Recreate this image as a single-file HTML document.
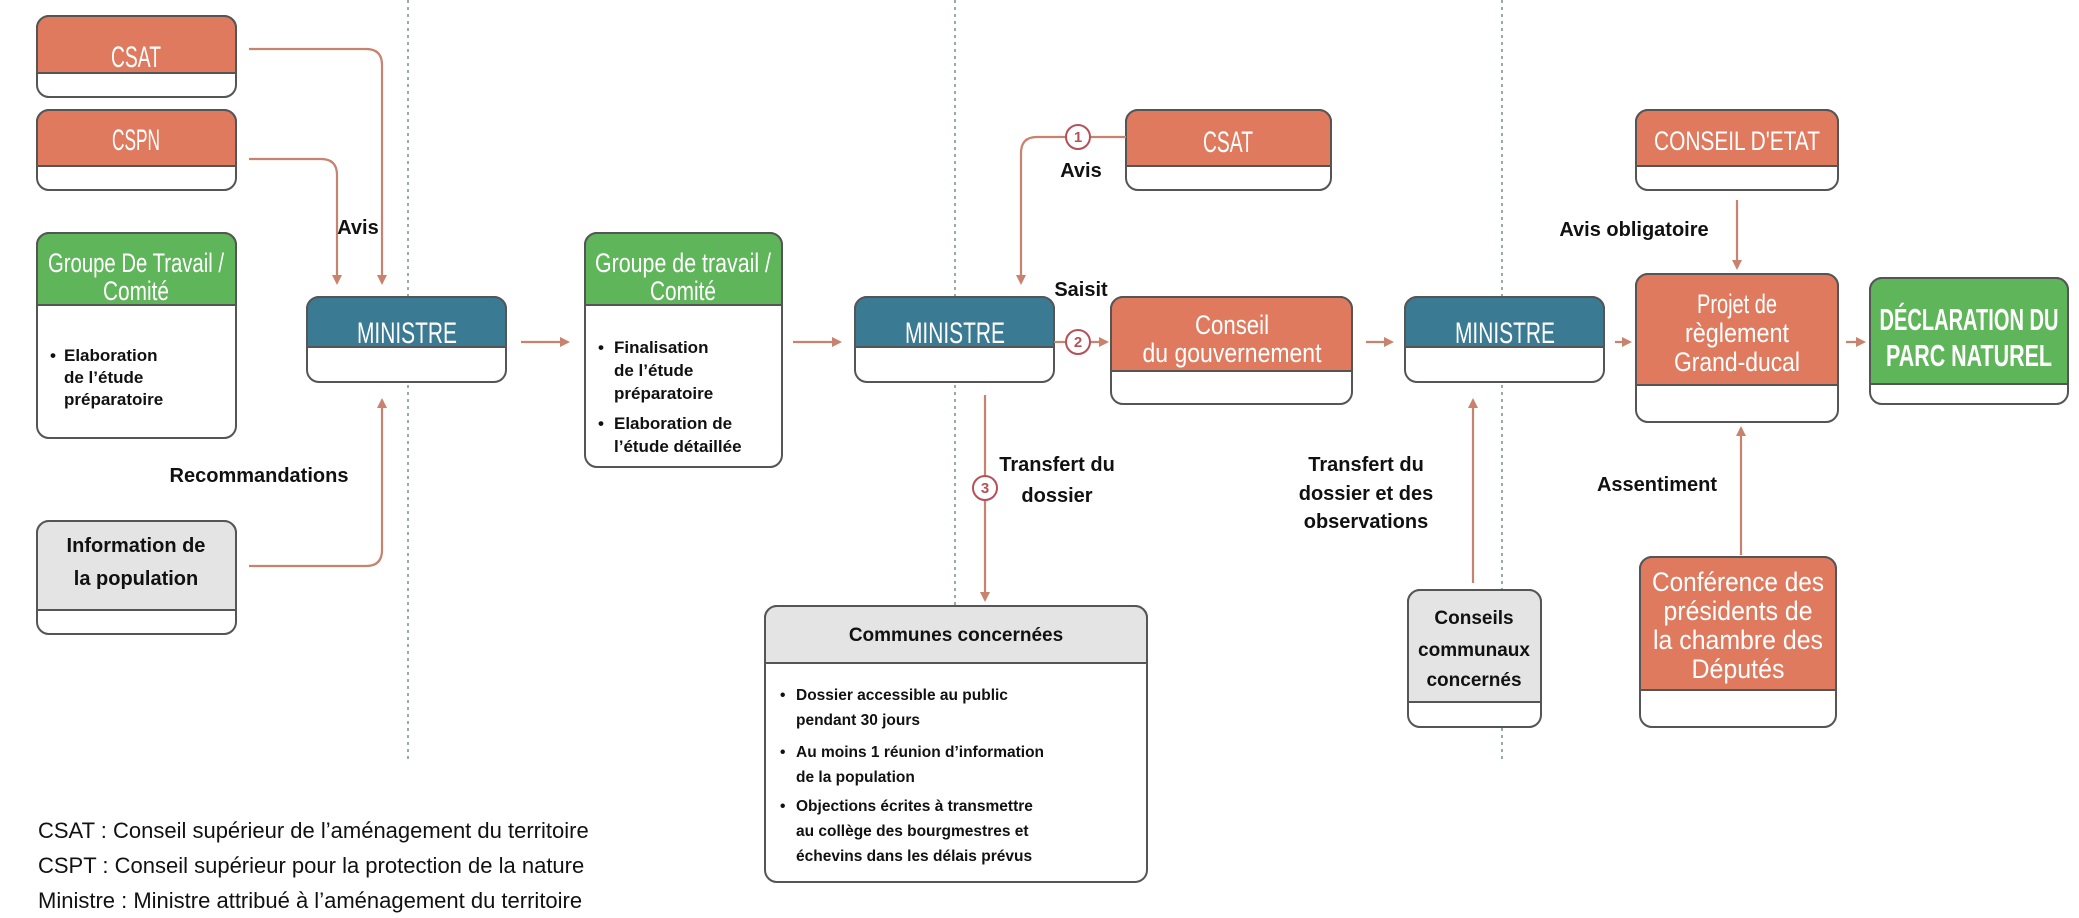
<!DOCTYPE html>
<html><head><meta charset="utf-8"><style>
html,body{margin:0;padding:0;background:#fff;}
svg{display:block;}
.h{font-family:"Liberation Sans",sans-serif;fill:#fff;text-anchor:middle;}
.b{font-family:"Liberation Sans",sans-serif;font-weight:bold;fill:#111;}
.c{text-anchor:middle;}
</style></head><body>
<svg width="2079" height="918" viewBox="0 0 2079 918" xmlns="http://www.w3.org/2000/svg">
<defs>
<marker id="a" markerWidth="10" markerHeight="10" refX="8" refY="5" orient="auto" markerUnits="userSpaceOnUse"><path d="M0,0 L10,5 L0,10 z" fill="#c7836d"/></marker>
</defs>
<g stroke="#9aa" stroke-width="2" stroke-dasharray="3,4">
<line x1="408" y1="0" x2="408" y2="762"/><line x1="955" y1="0" x2="955" y2="762"/><line x1="1502" y1="0" x2="1502" y2="762"/>
</g>
<g stroke="#555" stroke-width="2">
<rect x="37" y="16" width="199" height="81" rx="12" fill="#fff"/>
<path d="M37,28 a12,12 0 0 1 12,-12 h175 a12,12 0 0 1 12,12 v45 h-199 z" fill="#e07a5f"/>
<rect x="37" y="110" width="199" height="80" rx="12" fill="#fff"/>
<path d="M37,122 a12,12 0 0 1 12,-12 h175 a12,12 0 0 1 12,12 v44 h-199 z" fill="#e07a5f"/>
<rect x="37" y="233" width="199" height="205" rx="12" fill="#fff"/>
<path d="M37,245 a12,12 0 0 1 12,-12 h175 a12,12 0 0 1 12,12 v60 h-199 z" fill="#5fb55a"/>
<rect x="37" y="521" width="199" height="113" rx="12" fill="#fff"/>
<path d="M37,533 a12,12 0 0 1 12,-12 h175 a12,12 0 0 1 12,12 v77 h-199 z" fill="#e4e4e4"/>
<rect x="307" y="297" width="199" height="85" rx="12" fill="#fff"/>
<path d="M307,309 a12,12 0 0 1 12,-12 h175 a12,12 0 0 1 12,12 v38 h-199 z" fill="#3a7a93"/>
<rect x="585" y="233" width="197" height="234" rx="12" fill="#fff"/>
<path d="M585,245 a12,12 0 0 1 12,-12 h173 a12,12 0 0 1 12,12 v60 h-197 z" fill="#5fb55a"/>
<rect x="855" y="297" width="199" height="85" rx="12" fill="#fff"/>
<path d="M855,309 a12,12 0 0 1 12,-12 h175 a12,12 0 0 1 12,12 v38 h-199 z" fill="#3a7a93"/>
<rect x="1126" y="110" width="205" height="80" rx="12" fill="#fff"/>
<path d="M1126,122 a12,12 0 0 1 12,-12 h181 a12,12 0 0 1 12,12 v44 h-205 z" fill="#e07a5f"/>
<rect x="1111" y="297" width="241" height="107" rx="12" fill="#fff"/>
<path d="M1111,309 a12,12 0 0 1 12,-12 h217 a12,12 0 0 1 12,12 v62 h-241 z" fill="#e07a5f"/>
<rect x="765" y="606" width="382" height="276" rx="12" fill="#fff"/>
<path d="M765,618 a12,12 0 0 1 12,-12 h358 a12,12 0 0 1 12,12 v45 h-382 z" fill="#e4e4e4"/>
<rect x="1405" y="297" width="199" height="85" rx="12" fill="#fff"/>
<path d="M1405,309 a12,12 0 0 1 12,-12 h175 a12,12 0 0 1 12,12 v38 h-199 z" fill="#3a7a93"/>
<rect x="1408" y="590" width="133" height="137" rx="12" fill="#fff"/>
<path d="M1408,602 a12,12 0 0 1 12,-12 h109 a12,12 0 0 1 12,12 v100 h-133 z" fill="#e4e4e4"/>
<rect x="1636" y="110" width="202" height="80" rx="12" fill="#fff"/>
<path d="M1636,122 a12,12 0 0 1 12,-12 h178 a12,12 0 0 1 12,12 v44 h-202 z" fill="#e07a5f"/>
<rect x="1636" y="274" width="202" height="148" rx="12" fill="#fff"/>
<path d="M1636,286 a12,12 0 0 1 12,-12 h178 a12,12 0 0 1 12,12 v99 h-202 z" fill="#e07a5f"/>
<rect x="1870" y="278" width="198" height="126" rx="12" fill="#fff"/>
<path d="M1870,290 a12,12 0 0 1 12,-12 h174 a12,12 0 0 1 12,12 v94 h-198 z" fill="#5fb55a"/>
<rect x="1640" y="557" width="196" height="170" rx="12" fill="#fff"/>
<path d="M1640,569 a12,12 0 0 1 12,-12 h172 a12,12 0 0 1 12,12 v121 h-196 z" fill="#e07a5f"/>
</g>
<g stroke="#c7836d" stroke-width="2.2" fill="none">
<path d="M249,49 H366 Q382,49 382,65 V283" marker-end="url(#a)"/>
<path d="M249,159 H321 Q337,159 337,175 V283" marker-end="url(#a)"/>
<path d="M249,566 H366 Q382,566 382,550 V400" marker-end="url(#a)"/>
<path d="M521,342 H568" marker-end="url(#a)"/>
<path d="M793,342 H840" marker-end="url(#a)"/>
<path d="M1054,342 H1066"/>
<path d="M1090,342 H1107" marker-end="url(#a)"/>
<path d="M1126,137 H1090"/>
<path d="M1066,137 H1037 Q1021,137 1021,153 V283" marker-end="url(#a)"/>
<path d="M985,395 V476"/><path d="M985,500 V600" marker-end="url(#a)"/>
<path d="M1366,342 H1392" marker-end="url(#a)"/>
<path d="M1473,583 V400" marker-end="url(#a)"/>
<path d="M1615,342 H1630" marker-end="url(#a)"/>
<path d="M1737,200 V268" marker-end="url(#a)"/>
<path d="M1741,555 V428" marker-end="url(#a)"/>
<path d="M1846,342 H1864" marker-end="url(#a)"/>
</g>
<g stroke="#b5505a" stroke-width="2" fill="#fff">
<circle cx="1078" cy="137" r="12"/><circle cx="1078" cy="342" r="12"/><circle cx="985" cy="488" r="12"/>
</g>
<g class="b c" font-size="15">
<text x="1078" y="142" style="fill:#b5505a">1</text><text x="1078" y="347" style="fill:#b5505a">2</text><text x="985" y="493" style="fill:#b5505a">3</text>
</g>
<g class="h" font-size="30" lengthAdjust="spacingAndGlyphs">
<text x="136" y="67" textLength="50" lengthAdjust="spacingAndGlyphs">CSAT</text>
<text x="136" y="150" textLength="48" lengthAdjust="spacingAndGlyphs">CSPN</text>
<text x="407" y="343" textLength="100" lengthAdjust="spacingAndGlyphs">MINISTRE</text>
<text x="955" y="343" textLength="100" lengthAdjust="spacingAndGlyphs">MINISTRE</text>
<text x="1505" y="343" textLength="100" lengthAdjust="spacingAndGlyphs">MINISTRE</text>
<text x="1228" y="152" textLength="50" lengthAdjust="spacingAndGlyphs">CSAT</text>
</g>
<g class="h" font-size="27">
<text x="136" y="272" textLength="176" lengthAdjust="spacingAndGlyphs">Groupe De Travail /</text><text x="136" y="300" textLength="66" lengthAdjust="spacingAndGlyphs">Comité</text>
<text x="683" y="272" textLength="176" lengthAdjust="spacingAndGlyphs">Groupe de travail /</text><text x="683" y="300" textLength="66" lengthAdjust="spacingAndGlyphs">Comité</text>
<text x="1232" y="334" textLength="74" lengthAdjust="spacingAndGlyphs">Conseil</text><text x="1232" y="362" textLength="179" lengthAdjust="spacingAndGlyphs">du gouvernement</text>
<text x="1737" y="150" textLength="166" lengthAdjust="spacingAndGlyphs">CONSEIL D'ETAT</text>
<text x="1737" y="313" textLength="80" lengthAdjust="spacingAndGlyphs">Projet de</text><text x="1737" y="342" textLength="104" lengthAdjust="spacingAndGlyphs">règlement</text><text x="1737" y="371" textLength="126" lengthAdjust="spacingAndGlyphs">Grand-ducal</text>
<text x="1738" y="591" textLength="172" lengthAdjust="spacingAndGlyphs">Conférence des</text><text x="1738" y="620" textLength="149" lengthAdjust="spacingAndGlyphs">présidents de</text><text x="1738" y="649" textLength="170" lengthAdjust="spacingAndGlyphs">la chambre des</text><text x="1738" y="678" textLength="93" lengthAdjust="spacingAndGlyphs">Députés</text>
</g>
<g class="h" font-size="31" font-weight="bold">
<text x="1969" y="330" textLength="179" lengthAdjust="spacingAndGlyphs">DÉCLARATION DU</text><text x="1969" y="366" textLength="166" lengthAdjust="spacingAndGlyphs">PARC NATUREL</text>
</g>
<g class="b" font-size="17">
<text x="50" y="361">•</text><text x="64" y="361">Elaboration</text><text x="64" y="383">de l’étude</text><text x="64" y="405">préparatoire</text>
<text x="598" y="353">•</text><text x="614" y="353">Finalisation</text><text x="614" y="376">de l’étude</text><text x="614" y="399">préparatoire</text>
<text x="598" y="429">•</text><text x="614" y="429">Elaboration de</text><text x="614" y="452">l’étude détaillée</text>
</g>
<g class="b" font-size="15.5">
<text x="780" y="700">•</text><text x="796" y="700">Dossier accessible au public</text><text x="796" y="725">pendant 30 jours</text>
<text x="780" y="757">•</text><text x="796" y="757">Au moins 1 réunion d’information</text><text x="796" y="782">de la population</text>
<text x="780" y="811">•</text><text x="796" y="811">Objections écrites à transmettre</text><text x="796" y="836">au collège des bourgmestres et</text><text x="796" y="861">échevins dans les délais prévus</text>
</g>
<g class="b c" font-size="20">
<text x="136" y="552">Information de</text><text x="136" y="585">la population</text>
<text x="956" y="641" font-size="19">Communes concernées</text>
<text x="1474" y="624" font-size="19">Conseils</text><text x="1474" y="656" font-size="19">communaux</text><text x="1474" y="686" font-size="19">concernés</text>
<text x="358" y="234">Avis</text>
<text x="259" y="482">Recommandations</text>
<text x="1081" y="177">Avis</text>
<text x="1081" y="296">Saisit</text>
<text x="1057" y="471">Transfert du</text><text x="1057" y="502">dossier</text>
<text x="1366" y="471">Transfert du</text><text x="1366" y="500">dossier et des</text><text x="1366" y="528">observations</text>
<text x="1634" y="236">Avis obligatoire</text>
<text x="1657" y="491">Assentiment</text>
</g>
<g font-family="Liberation Sans, sans-serif" font-size="22" fill="#111">
<text x="38" y="838">CSAT : Conseil supérieur de l’aménagement du territoire</text>
<text x="38" y="873">CSPT : Conseil supérieur pour la protection de la nature</text>
<text x="38" y="908">Ministre : Ministre attribué à l’aménagement du territoire</text>
</g>
</svg>
</body></html>
